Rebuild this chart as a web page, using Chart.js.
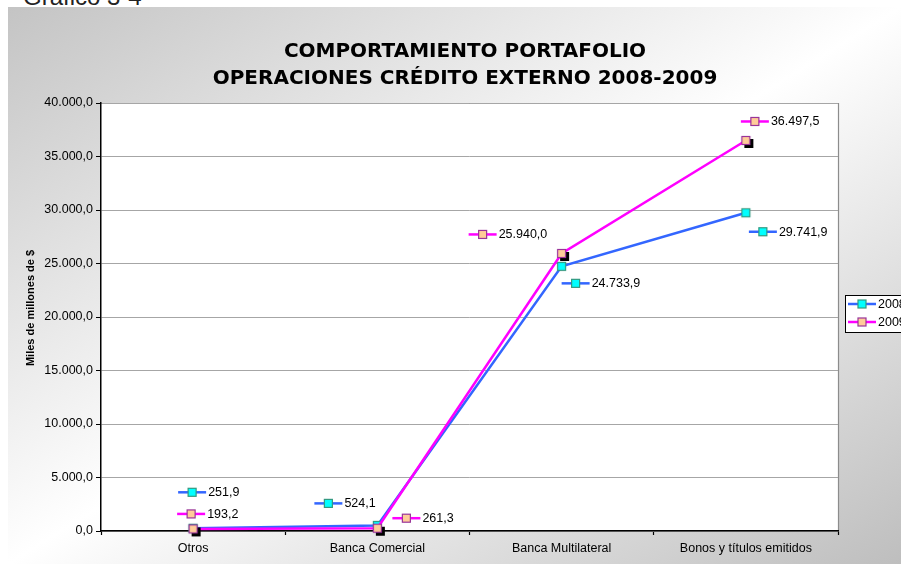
<!DOCTYPE html>
<html lang="es">
<head>
<meta charset="utf-8">
<title>Comportamiento portafolio - operaciones crédito externo 2008-2009</title>
<script src="https://cdn.jsdelivr.net/npm/chart.js@4/dist/chart.umd.min.js"></script>
<style>
  html, body { margin: 0; padding: 0; background: #fff; overflow: hidden; }
  #wrap { position: relative; width: 901px; height: 564px; }
  #caption {
    position: absolute; left: 23px; top: -15px; z-index: 0;
    font: 24px/24px "Liberation Sans", Arial, sans-serif; color: #222; white-space: nowrap;
  }
  #chart { position: absolute; left: 0; top: 0; z-index: 1; }
</style>
</head>
<body>
<div id="wrap">
  <div id="caption">Gráfico 3-4</div>
  <canvas id="chart" width="901" height="564"></canvas>
</div>
<script>
// --- data ---
const categories  = ['Otros', 'Banca Comercial', 'Banca Multilateral', 'Bonos y títulos emitidos'];
const seriesNames = ['2008', '2009'];
const values2008  = [251.9, 524.1, 24733.9, 29741.9];
const values2009  = [193.2, 261.3, 25940.0, 36497.5];
const yMin = 0, yMax = 40000, yStep = 5000;
const titleLines  = ['COMPORTAMIENTO PORTAFOLIO', 'OPERACIONES CRÉDITO EXTERNO 2008-2009'];
const yTitle      = 'Miles de millones de $';

// where each data label sits, relative to its point (px)
const labelOffsets2008 = [[-1, -36], [-49, -22], [14, 17], [17, 19]];
const labelOffsets2009 = [[-2, -15], [29, -10], [-79, -19], [9, -19]];

const SANS = '"Liberation Sans", Arial, sans-serif';

// 40000 -> "40.000,0"
function fmt(v) {
  const [int, dec] = Number(v).toFixed(1).split('.');
  return int.replace(/\B(?=(\d{3})+(?!\d))/g, '.') + ',' + dec;
}

// square marker drawn into a small canvas, optional black drop shadow
function makeMarker(fill, stroke, shadow) {
  const c = document.createElement('canvas');
  c.width = 17; c.height = 17;
  const g = c.getContext('2d');
  if (shadow) { g.fillStyle = '#000'; g.fillRect(7, 7, 9, 9); }
  g.fillStyle = fill;
  g.fillRect(4, 4, 9, 9);
  g.strokeStyle = stroke;
  g.lineWidth = 1.2;
  g.strokeRect(4.5, 4.5, 8, 8);
  return c;
}

const styles = [
  { line: '#3366ff', fill: '#00ffff', stroke: '#339980' },
  { line: '#ff00ff', fill: '#ffcc99', stroke: '#993399' },
];

// small "line + square" key, used by data labels and legend
function drawKey(ctx, cx, cy, st, text) {
  ctx.save();
  ctx.strokeStyle = st.line;
  ctx.lineWidth = 2.5;
  ctx.beginPath();
  ctx.moveTo(cx - 14, cy);
  ctx.lineTo(cx + 14, cy);
  ctx.stroke();
  ctx.fillStyle = st.fill;
  ctx.fillRect(cx - 4, cy - 4, 8, 8);
  ctx.strokeStyle = st.stroke;
  ctx.lineWidth = 1.2;
  ctx.strokeRect(cx - 4, cy - 4, 8, 8);
  ctx.fillStyle = '#000';
  ctx.font = '12.5px ' + SANS;
  ctx.textAlign = 'left';
  ctx.textBaseline = 'middle';
  ctx.fillText(text, cx + 16, cy + 0.5);
  ctx.restore();
}

const backdropPlugin = {
  id: 'backdrop',
  beforeDraw(chart) {
    const { ctx, chartArea: a } = chart;
    const x0 = 8, y0 = 7, W = chart.width - x0, H = chart.height - y0;
    // diagonal gray -> white -> gray, iso-lines through the other two corners
    const k = (2 * W * H) / (W * W + H * H);
    const grad = ctx.createLinearGradient(x0, y0, x0 + H * k, y0 + W * k);
    grad.addColorStop(0, '#c4c4c4');
    grad.addColorStop(0.5, '#ffffff');
    grad.addColorStop(1, '#bebebe');
    ctx.save();
    ctx.fillStyle = grad;
    ctx.fillRect(x0, y0, W, H);
    ctx.fillStyle = '#fff';
    ctx.fillRect(a.left, a.top, a.right - a.left, a.bottom - a.top);
    ctx.strokeStyle = '#8c8c8c';
    ctx.lineWidth = 1.2;
    ctx.beginPath();
    ctx.moveTo(a.left, a.top + 0.5);
    ctx.lineTo(a.right + 0.5, a.top + 0.5);
    ctx.lineTo(a.right + 0.5, a.bottom);
    ctx.stroke();

    // title
    ctx.fillStyle = '#000';
    ctx.font = 'bold 20px "DejaVu Sans", Verdana, sans-serif';
    ctx.textAlign = 'center';
    ctx.textBaseline = 'alphabetic';
    titleLines.forEach((t, i) => ctx.fillText(t, 465, 57 + i * 27));

    // y axis title (sits a bit above the plot's middle in the original)
    ctx.translate(31, 308);
    ctx.rotate(-Math.PI / 2);
    ctx.font = 'bold 11px ' + SANS;
    ctx.textBaseline = 'middle';
    ctx.fillText(yTitle, 0, 0);
    ctx.restore();
  },
  afterDatasetsDraw(chart) {
    const { ctx } = chart;
    const offsets = [labelOffsets2008, labelOffsets2009];
    chart.data.datasets.forEach((ds, i) => {
      const meta = chart.getDatasetMeta(i);
      meta.data.forEach((pt, j) => {
        const [dx, dy] = offsets[i][j];
        drawKey(ctx, pt.x + dx, pt.y + dy, styles[i], fmt(ds.data[j]));
      });
    });
  },
  afterDraw(chart) {
    // legend box, partly off the right edge like the original
    const { ctx } = chart;
    ctx.save();
    ctx.fillStyle = '#fff';
    ctx.fillRect(845.5, 295.5, 70, 37);
    ctx.strokeStyle = '#000';
    ctx.lineWidth = 1;
    ctx.strokeRect(845.5, 295.5, 70, 37);
    ctx.restore();
    chart.data.datasets.forEach((ds, i) => drawKey(ctx, 862, 304 + i * 18, styles[i], ds.label));
  },
};

const ctx = document.getElementById('chart').getContext('2d');
new Chart(ctx, {
  type: 'line',
  data: {
    labels: categories,
    datasets: [
      {
        label: seriesNames[0],
        data: values2008,
        borderColor: styles[0].line,
        borderWidth: 2.5,
        pointStyle: makeMarker(styles[0].fill, styles[0].stroke, false),
        pointRadius: 5,
        tension: 0,
        clip: 10,
        order: 1,
      },
      {
        label: seriesNames[1],
        data: values2009,
        borderColor: styles[1].line,
        borderWidth: 2.5,
        pointStyle: makeMarker(styles[1].fill, styles[1].stroke, true),
        pointRadius: 5,
        tension: 0,
        clip: 10,
        order: 0,
      },
    ],
  },
  options: {
    responsive: false,
    animation: false,
    layout: { padding: { left: 8, right: 63, top: 103, bottom: 0 } },
    plugins: {
      legend: { display: false },
      title: { display: false },
      tooltip: { enabled: false },
    },
    scales: {
      x: {
        type: 'category',
        offset: true,
        grid: { offset: true, drawOnChartArea: false, tickLength: 4, tickColor: '#000', tickWidth: 1.2 },
        border: { color: '#000', width: 1.5 },
        ticks: { color: '#000', font: { family: SANS, size: 12.5 }, padding: 6, maxRotation: 0, autoSkip: false },
        afterFit: s => { s.height = 33; },
      },
      y: {
        min: yMin,
        max: yMax,
        grid: { color: '#a6a6a6', lineWidth: 1, tickColor: '#000', tickLength: 5 },
        border: { color: '#000', width: 1.5 },
        ticks: { stepSize: yStep, color: '#000', font: { family: SANS, size: 12.5 }, padding: 3, callback: v => fmt(v) },
        afterFit: s => { s.width = 93; },
      },
    },
  },
  plugins: [backdropPlugin],
});
</script>
</body>
</html>
